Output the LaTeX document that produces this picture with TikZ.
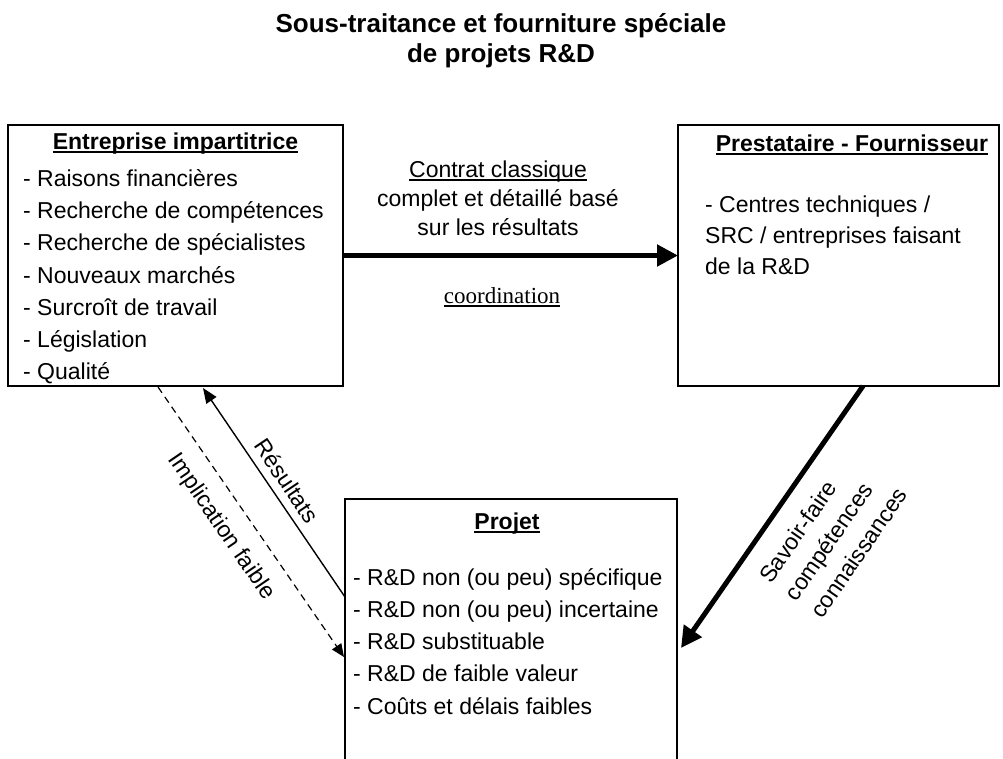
\documentclass[tikz,border=0pt]{standalone}
\usepackage{fontspec}
\setmainfont{Liberation Sans}
\newfontfamily\seriffont{Liberation Serif}
\usetikzlibrary{arrows.meta,calc}
% underline with a rule of fixed thickness
\newcommand\ulbox[2][3.5pt]{\setbox0\hbox{#2}\rlap{\rule[-#1]{\wd0}{1.6pt}}\box0}

\begin{document}
\begin{tikzpicture}[x=1pt,y=-1pt,
  txt/.style={inner sep=0pt, font=\fontsize{23}{32}\selectfont},
  ttl/.style={inner sep=0pt, font=\bfseries\fontsize{26}{31}\selectfont},
  box/.style={draw, line width=1.9pt, inner sep=0pt, outer sep=0pt},
  bigarrow/.style={line width=5pt, -{Triangle[length=21pt,width=21pt]}},
  thinarrow/.style={line width=1.4pt, -{Triangle[length=15pt,width=12pt]}},
  dasharrow/.style={line width=1.2pt, dash pattern=on 7pt off 5pt, -{Triangle[length=13pt,width=11pt]}}]
\useasboundingbox (0,0) rectangle (1003,758);
\clip (0,0) rectangle (1003,758);

% title
\node[ttl, anchor=base] (t1) at (501,32) {Sous-traitance et fourniture spéciale};
\node[ttl, anchor=base] (t2) at (501,62) {de projets R\&D};

% the three boxes
\node[box, minimum width=335pt, minimum height=261pt] (A) at (175.5,255.5) {};
\node[box, minimum width=321pt, minimum height=261pt] (B) at (838.5,255.5) {};
\node[box, minimum width=332pt, minimum height=302pt] (C) at (511,650) {};

% Entreprise impartitrice
\node[txt, anchor=base] (ah) at (175.5,149) {\ulbox{\bfseries Entreprise impartitrice}};
\foreach \t [count=\i] in {Raisons financières, Recherche de compétences,
    Recherche de spécialistes, Nouveaux marchés, Surcroît de travail,
    Législation, Qualité}
  \node[txt, anchor=base west] (a\i) at (23,{186.5+32.2*(\i-1)}) {- \t};

% Prestataire - Fournisseur
\node[txt, anchor=base] (bh) at (852,151) {\ulbox{\bfseries Prestataire - Fournisseur}};
\node[txt, anchor=base west] (b1) at (705,212) {- Centres techniques /};
\node[txt, anchor=base west] (b2) at (705,243) {SRC / entreprises faisant};
\node[txt, anchor=base west] (b3) at (705,274) {de la R\&D};

% Projet
\node[txt, anchor=base] (ch) at (507,529) {\ulbox{\bfseries Projet}};
\foreach \t [count=\i] in {R\&D non (ou peu) spécifique, R\&D non (ou peu) incertaine,
    R\&D substituable, R\&D de faible valeur, Coûts et délais faibles}
  \node[txt, anchor=base west] (c\i) at (353,{585+32.3*(\i-1)}) {- \t};

% contract arrow and its labels
\draw[bigarrow] (A.east) -- (B.west);
\node[txt, anchor=base] (k1) at (498,177) {\ulbox{Contrat classique}};
\node[txt, anchor=base] (k2) at (498,206) {complet et détaillé basé};
\node[txt, anchor=base] (k3) at (498,235) {sur les résultats};
\node[txt, anchor=base, font={\seriffont\fontsize{23}{28}\selectfont}] (co) at (502,303) {\ulbox[4pt]{coordination}};

% links with the project
\draw[thinarrow] ($(C.north west)+(0,98)$) -- ($(A.south west)+(195,2)$);
\draw[dasharrow] ($(A.south west)+(150,1)$) -- ($(C.north west)+(-1,158)$);
\draw[bigarrow] ($(B.south west)+(185,0)$) -- ($(C.north east)+(4,149)$);

\node[txt, rotate=-56.2] (lr) at (287,481) {Résultats};
\node[txt, rotate=-55.7] (li) at (221,527) {Implication faible};
\node[txt, rotate=55.5, align=left, font=\fontsize{23}{31}\selectfont] (ls) at (833,535)
  {Savoir-faire\\compétences\\connaissances};
\end{tikzpicture}
\end{document}
